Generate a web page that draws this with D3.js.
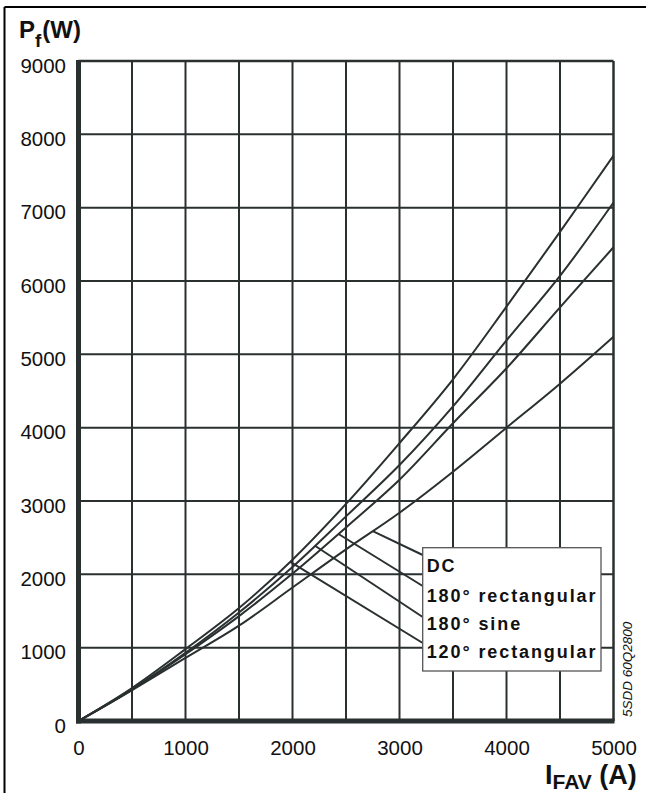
<!DOCTYPE html>
<html>
<head>
<meta charset="utf-8">
<script src="https://cdn.jsdelivr.net/npm/d3@7"></script>
<style>
  html, body { margin: 0; padding: 0; background: #fff; }
  svg { display: block; }
  text { font-family: "Liberation Sans", Arial, sans-serif; fill: #111; }
</style>
</head>
<body>
<div id="chart"></div>
<script>
// ---- data ----
const currents   = [0, 500, 1000, 1500, 2000, 2500, 3000, 3500, 4000, 4500, 5000];
const pDC        = [0, 420, 860, 1300, 1820, 2340, 2840, 3400, 4000, 4600, 5240];
const p180rect   = [0, 425, 910, 1430, 2010, 2640, 3290, 4060, 4810, 5640, 6460];
const p180sine   = [0, 435, 930, 1480, 2100, 2790, 3490, 4290, 5190, 6070, 7070];
const p120rect   = [0, 450, 980, 1540, 2200, 2960, 3790, 4660, 5650, 6670, 7710];
const seriesNames = ["DC", "180° rectangular", "180° sine", "120° rectangular"];
const seriesValues = [pDC, p180rect, p180sine, p120rect];
// point on each curve that its legend leader touches [I, P]
const leaderTargets = [[2750, 2590], [2430, 2550], [2210, 2390], [1980, 2170]];
const xTickLabels = [0, 1000, 2000, 3000, 4000, 5000];
const yTickLabels = [0, 1000, 2000, 3000, 4000, 5000, 6000, 7000, 8000, 9000];
const xGridValues = [500, 1000, 1500, 2000, 2500, 3000, 3500, 4000, 4500];
const yGridValues = [1000, 2000, 3000, 4000, 5000, 6000, 7000, 8000];
const drawingCode = "5SDD 60Q2800";

// ---- layout ----
const W = 648, H = 793;
const ink = "#2a3030";
const svg = d3.select("#chart").append("svg").attr("width", W).attr("height", H);

const x = d3.scaleLinear().domain([0, 5000]).range([78.5, 613.5]);
const y = d3.scaleLinear().domain([0, 9000]).range([721, 61]);

// outer frame (left + top)
svg.append("line").attr("x1", 4.5).attr("x2", 4.5).attr("y1", 7).attr("y2", H)
  .attr("stroke", "#000").attr("stroke-width", 2);
svg.append("line").attr("x1", 4.5).attr("x2", 646).attr("y1", 7).attr("y2", 7)
  .attr("stroke", "#000").attr("stroke-width", 2);

// grid
const g = svg.append("g");
g.selectAll("line.vg").data(xGridValues).join("line").attr("class", "vg")
  .attr("x1", d => x(d)).attr("x2", d => x(d)).attr("y1", y(9000)).attr("y2", y(0))
  .attr("stroke", ink).attr("stroke-width", 2);
g.selectAll("line.hg").data(yGridValues).join("line").attr("class", "hg")
  .attr("x1", x(0)).attr("x2", x(5000)).attr("y1", d => y(d)).attr("y2", d => y(d))
  .attr("stroke", ink).attr("stroke-width", 2);
// plot frame
g.append("line").attr("x1", x(0)).attr("x2", x(5000)).attr("y1", y(9000)).attr("y2", y(9000))
  .attr("stroke", ink).attr("stroke-width", 2.5);
g.append("line").attr("x1", x(5000)).attr("x2", x(5000)).attr("y1", y(9000)).attr("y2", y(0))
  .attr("stroke", ink).attr("stroke-width", 2.5);

// curves
const line = d3.line().x(d => x(d[0])).y(d => y(d[1])).curve(d3.curveCatmullRom.alpha(0.5));
seriesValues.forEach(vals => {
  g.append("path").datum(currents.map((c, i) => [c, vals[i]]))
    .attr("d", line).attr("fill", "none").attr("stroke", ink).attr("stroke-width", 2);
});

// thick axes
g.append("line").attr("x1", x(0)).attr("x2", x(0)).attr("y1", y(9000) - 1).attr("y2", y(0) + 2.5)
  .attr("stroke", ink).attr("stroke-width", 5);
g.append("line").attr("x1", x(0) - 2.5).attr("x2", x(5000) + 1).attr("y1", y(0)).attr("y2", y(0))
  .attr("stroke", ink).attr("stroke-width", 5);

// axes labels via d3 axes (styled)
const xAxis = d3.axisBottom(x).tickValues(xTickLabels).tickSize(0).tickPadding(0).tickFormat(d3.format("d"));
const xa = svg.append("g").attr("transform", `translate(0, ${y(0)})`).call(xAxis);
xa.select(".domain").remove();
xa.selectAll("text").attr("dy", null).attr("y", 34).attr("font-size", 20.5)
  .attr("font-family", "Liberation Sans, Arial, sans-serif").attr("fill", "#333");

const yAxis = d3.axisLeft(y).tickValues(yTickLabels).tickSize(0).tickPadding(0).tickFormat(d3.format("d"));
const ya = svg.append("g").attr("transform", `translate(${x(0) - 12.5}, 0)`).call(yAxis);
ya.select(".domain").remove();
ya.selectAll("text").attr("dy", null).attr("x", 0).attr("y", 11.3).attr("font-size", 20.5)
  .attr("font-family", "Liberation Sans, Arial, sans-serif").attr("fill", "#333");

// axis titles
const yt = svg.append("text").attr("x", 19).attr("y", 38).attr("font-weight", "bold").attr("font-size", 24);
yt.append("tspan").text("P");
yt.append("tspan").attr("font-size", 19).attr("dy", 9).text("f");
yt.append("tspan").attr("dy", -9).attr("dx", 1).text("(W)");

const xt = svg.append("text").attr("x", 545).attr("y", 784).attr("font-weight", "bold").attr("font-size", 27);
xt.append("tspan").text("I");
xt.append("tspan").attr("font-size", 21).attr("dy", 5).attr("dx", 0).text("FAV");
xt.append("tspan").attr("dy", -5).attr("dx", 0).text(" (A)");

// legend leaders
const boxX = 422.7, boxY = 547.7, boxW = 178.3, boxH = 123.3;
const leaderStartY = [555, 586, 617, 643];
leaderTargets.forEach((t, i) => {
  g.append("line").attr("x1", boxX).attr("y1", leaderStartY[i])
    .attr("x2", x(t[0])).attr("y2", y(t[1]))
    .attr("stroke", ink).attr("stroke-width", 2);
});
// legend box
svg.append("rect").attr("x", boxX).attr("y", boxY).attr("width", boxW).attr("height", boxH)
  .attr("fill", "#fff").attr("stroke", "#555").attr("stroke-width", 1.3);
const legendBaselines = [572, 602, 630, 658];
svg.selectAll("text.leg").data(seriesNames).join("text").attr("class", "leg")
  .attr("x", boxX + 4).attr("y", (d, i) => legendBaselines[i])
  .attr("font-weight", "bold").attr("font-size", 18).attr("letter-spacing", 1.9)
  .text(d => d);

// drawing code
svg.append("text").attr("transform", "translate(631.5, 717) rotate(-90)")
  .attr("font-size", 13.5).attr("font-style", "italic").attr("fill", "#222").text(drawingCode);
</script>
</body>
</html>
